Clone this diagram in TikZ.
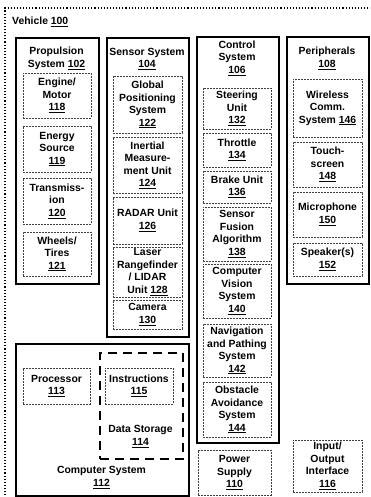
\documentclass[tikz,border=0pt]{standalone}
\usepackage{fontspec}
\setmainfont{Liberation Sans}
\usetikzlibrary{positioning}

\begin{document}
\begin{tikzpicture}[x=1pt,y=-1pt,
  txt/.style={font=\fontsize{10.4}{12.5}\selectfont\bfseries, align=center, inner sep=0pt},
  grpbox/.style={draw, line width=1.6pt, inner sep=0pt, anchor=north west},
  inbox/.style={txt, draw=black!75, line width=0.5pt, dash pattern=on 2pt off 1pt},
  storebox/.style={draw, line width=1.5pt, dash pattern=on 9pt off 6pt, inner sep=0pt, anchor=north west}]
\useasboundingbox (0,0) rectangle (370,497);
\clip (0,0) rectangle (370,497);
%
% vehicle
\draw[line width=1.1pt, dotted] (5,520) -- (5,8) -- (390,8);
\node[txt, anchor=west] (veh) at (12,22) {Vehicle \underline{100}};
%
% propulsion system
\node[grpbox, minimum width=83pt, minimum height=246pt] (prop) at (15,37) {};
\node[txt] (proptitle) at (56.5,58.5) {Propulsion\\System \underline{102}};
\node[inbox, minimum width=68pt, minimum height=45pt] (engine) at (57,95.5) {Engine/\\Motor\\\underline{118}};
\node[inbox, minimum width=68pt, minimum height=46pt] (energy) at (57,149) {Energy\\Source\\\underline{119}};
\node[inbox, minimum width=68pt, minimum height=46pt] (trans) at (57,201) {Transmiss-\\ion\\\underline{120}};
\node[inbox, minimum width=68pt, minimum height=44pt] (wheels) at (57,254) {Wheels/\\Tires\\\underline{121}};
%
% sensor system
\node[grpbox, minimum width=82pt, minimum height=299pt] (sens) at (106,37) {};
\node[txt] (senstitle) at (147,59) {Sensor System\\\underline{104}};
\node[inbox, minimum width=69pt, minimum height=57pt] (gps) at (147.5,104.5) {Global\\Positioning\\System\\\underline{122}};
\node[inbox, minimum width=69pt, minimum height=56pt] (imu) at (147.5,165) {Inertial\\Measure-\\ment Unit\\\underline{124}};
\node[inbox, minimum width=69pt, minimum height=47pt] (radar) at (147.5,220.5) {RADAR Unit\\\underline{126}};
\node[inbox, minimum width=69pt, minimum height=50pt] (lidar) at (147.5,272) {Laser\\Rangefinder\\/ LIDAR\\Unit \underline{128}};
\node[inbox, minimum width=69pt, minimum height=29pt] (camera) at (147.5,314.5) {Camera\\\underline{130}};
%
% control system
\node[grpbox, minimum width=82pt, minimum height=406pt] (ctrl) at (196,36) {};
\node[txt] (ctrltitle) at (237,58) {Control\\System\\\underline{106}};
\node[inbox, minimum width=68pt, minimum height=41pt] (steer) at (237,108.5) {Steering\\Unit\\\underline{132}};
\node[inbox, minimum width=68pt, minimum height=34pt] (throttle) at (237,150) {Throttle\\\underline{134}};
\node[inbox, minimum width=68pt, minimum height=32pt] (brake) at (237,187) {Brake Unit\\\underline{136}};
\node[inbox, minimum width=68pt, minimum height=54pt] (fusion) at (237,234) {Sensor\\Fusion\\Algorithm\\\underline{138}};
\node[inbox, minimum width=68pt, minimum height=54pt] (vision) at (237,291) {Computer\\Vision\\System\\\underline{140}};
\node[inbox, minimum width=68pt, minimum height=53pt] (nav) at (237,350.5) {Navigation\\and Pathing\\System\\\underline{142}};
\node[inbox, minimum width=68pt, minimum height=55pt] (obst) at (237,409.5) {Obstacle\\Avoidance\\System\\\underline{144}};
%
% peripherals
\node[grpbox, minimum width=82pt, minimum height=247pt] (peri) at (286,36) {};
\node[txt] (perititle) at (327,58.5) {Peripherals\\\underline{108}};
\node[inbox, minimum width=69pt, minimum height=58pt] (wireless) at (327.5,108) {Wireless\\Comm.\\System \underline{146}};
\node[inbox, minimum width=69pt, minimum height=45pt] (touch) at (327.5,164.5) {Touch-\\screen\\\underline{148}};
\node[inbox, minimum width=69pt, minimum height=45pt] (mic) at (327.5,214.5) {Microphone\\\underline{150}};
\node[inbox, minimum width=69pt, minimum height=33pt] (speaker) at (327.5,259.5) {Speaker(s)\\\underline{152}};
%
% computer system
\node[grpbox, minimum width=173pt, minimum height=152pt] (comp) at (15,343) {};
\node[txt] (comptitle) at (101.5,477.5) {Computer System\\\underline{112}};
\node[inbox, minimum width=67pt, minimum height=36pt] (proc) at (56.5,386) {Processor\\\underline{113}};
\node[storebox, minimum width=83pt, minimum height=106pt] (store) at (99,352) {};
\node[txt] (storetitle) at (140.5,436.5) {Data Storage\\\underline{114}};
\node[inbox, minimum width=68pt, minimum height=36pt] (instr) at (139,386) {Instructions\\\underline{115}};
%
% power supply and i/o
\node[inbox, minimum width=73pt, minimum height=45pt] (power) at (234.5,472.5) {Power\\Supply\\\underline{110}};
\node[inbox, minimum width=69pt, minimum height=52pt] (io) at (327.5,466) {Input/\\Output\\Interface\\\underline{116}};
%
\end{tikzpicture}
\end{document}
